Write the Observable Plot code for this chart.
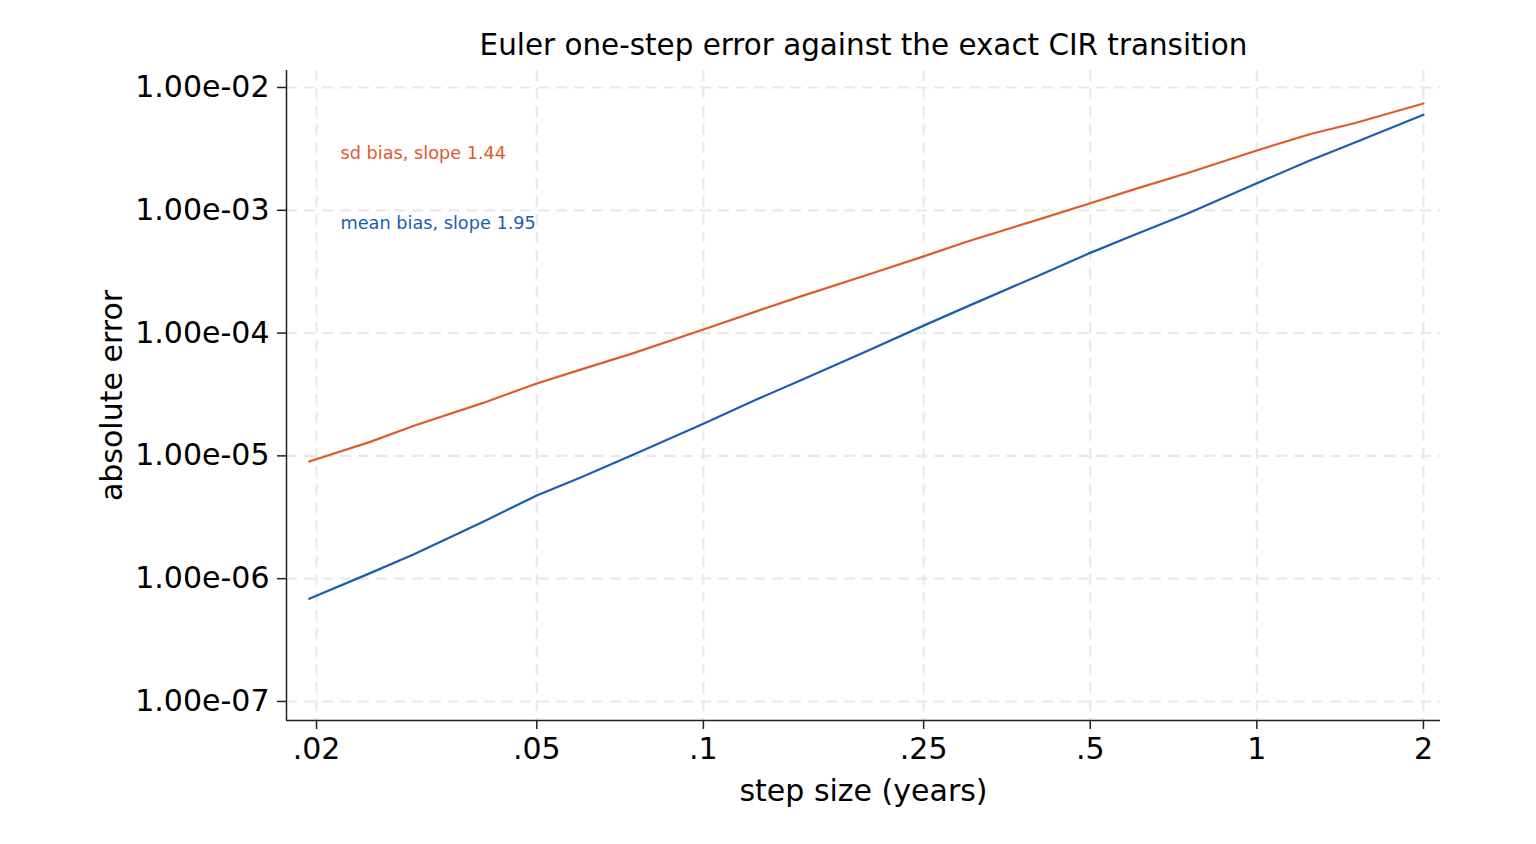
<!DOCTYPE html>
<html>
<head>
<meta charset="utf-8">
<script src="https://cdn.jsdelivr.net/npm/d3@7"></script>
<script src="https://cdn.jsdelivr.net/npm/@observablehq/plot@0.6"></script>
<style>
  html, body { margin: 0; padding: 0; background: #fff; }
</style>
</head>
<body>
<div id="chart"></div>
<script>
const title = "Euler one-step error against the exact CIR transition";
const xLabel = "step size (years)";
const yLabel = "absolute error";

const stepSize = [0.0194, 0.025, 0.03, 0.04, 0.05, 0.06, 0.075, 0.1, 0.125, 0.15, 0.2,
                  0.25, 0.3, 0.4, 0.5, 0.6, 0.75, 1, 1.25, 1.5, 2];
const sdBias = [9.00e-6, 1.30e-5, 1.76e-5, 2.70e-5, 3.89e-5, 5.04e-5, 6.90e-5, 1.07e-4,
                1.51e-4, 1.99e-4, 3.03e-4, 4.21e-4, 5.57e-4, 8.32e-4, 1.14e-3, 1.48e-3,
                2.01e-3, 3.07e-3, 4.18e-3, 5.11e-3, 7.41e-3];
const meanBias = [6.86e-7, 1.11e-6, 1.58e-6, 2.91e-6, 4.76e-6, 6.67e-6, 1.03e-5, 1.83e-5,
                  2.89e-5, 4.13e-5, 7.32e-5, 1.15e-4, 1.65e-4, 2.89e-4, 4.50e-4, 6.30e-4,
                  9.40e-4, 1.66e-3, 2.55e-3, 3.55e-3, 5.99e-3];
const seriesNames = ["sd bias", "mean bias"];
const seriesLabels = ["sd bias, slope 1.44", "mean bias, slope 1.95"];
const seriesColors = ["#e05a2b", "#1a5fad"];

const xTicks = [0.02, 0.05, 0.1, 0.25, 0.5, 1, 2];
const xTickLabels = [".02", ".05", ".1", ".25", ".5", "1", "2"];
const yTicks = [1e-7, 1e-6, 1e-5, 1e-4, 1e-3, 1e-2];
const yTickLabels = ["1.00e-07", "1.00e-06", "1.00e-05", "1.00e-04", "1.00e-03", "1.00e-02"];

const rows = [];
stepSize.forEach((s, i) => {
  rows.push({series: seriesNames[0], x: s, y: sdBias[i]});
  rows.push({series: seriesNames[1], x: s, y: meanBias[i]});
});

const font = "DejaVu Sans, sans-serif";
const gridColor = "#e9e9e9";
const axisColor = "#222";

const chart = Plot.plot({
  width: 1536,
  height: 844,
  marginLeft: 286,
  marginRight: 96,
  marginTop: 70,
  marginBottom: 124,
  style: {fontFamily: font, fontSize: "30px", color: "#000", background: "#fff"},
  x: {type: "log", domain: [0.01765, 2.147]},
  y: {type: "log", domain: [7.0e-8, 1.375e-2]},
  color: {domain: seriesNames, range: seriesColors},
  marks: [
    Plot.gridX(xTicks, {stroke: gridColor, strokeOpacity: 1, strokeWidth: 2.2, strokeDasharray: "11,7"}),
    Plot.gridY(yTicks, {stroke: gridColor, strokeOpacity: 1, strokeWidth: 2.2, strokeDasharray: "11,7"}),
    Plot.axisX(xTicks, {
      tickFormat: (d) => xTickLabels[xTicks.indexOf(d)],
      tickSize: 9, tickPadding: 8, fontSize: 30, stroke: axisColor, strokeWidth: 1.5,
      label: xLabel, labelAnchor: "center", labelArrow: "none", labelOffset: 80
    }),
    Plot.axisY(yTicks, {
      tickFormat: (d) => yTickLabels[yTicks.indexOf(d)],
      tickSize: 9, tickPadding: 8, fontSize: 30, stroke: axisColor, strokeWidth: 1.5,
      label: yLabel, labelAnchor: "center", labelArrow: "none", labelOffset: 186
    }),
    Plot.ruleY([7.0e-8], {stroke: axisColor, strokeWidth: 1.5}),
    Plot.ruleX([0.01765], {stroke: axisColor, strokeWidth: 1.5}),
    Plot.line(rows, {x: "x", y: "y", z: "series", stroke: "series", strokeWidth: 2.2}),
    Plot.text([title], {frameAnchor: "top", dy: -36, fontSize: 29.4, fill: "#000"}),
    Plot.text([seriesLabels[0]], {frameAnchor: "top-left", dx: 54, dy: 76, fontSize: 17.7, fill: seriesColors[0], textAnchor: "start"}),
    Plot.text([seriesLabels[1]], {frameAnchor: "top-left", dx: 54, dy: 146, fontSize: 17.7, fill: seriesColors[1], textAnchor: "start"})
  ]
});
document.getElementById("chart").appendChild(chart);
</script>
</body>
</html>
